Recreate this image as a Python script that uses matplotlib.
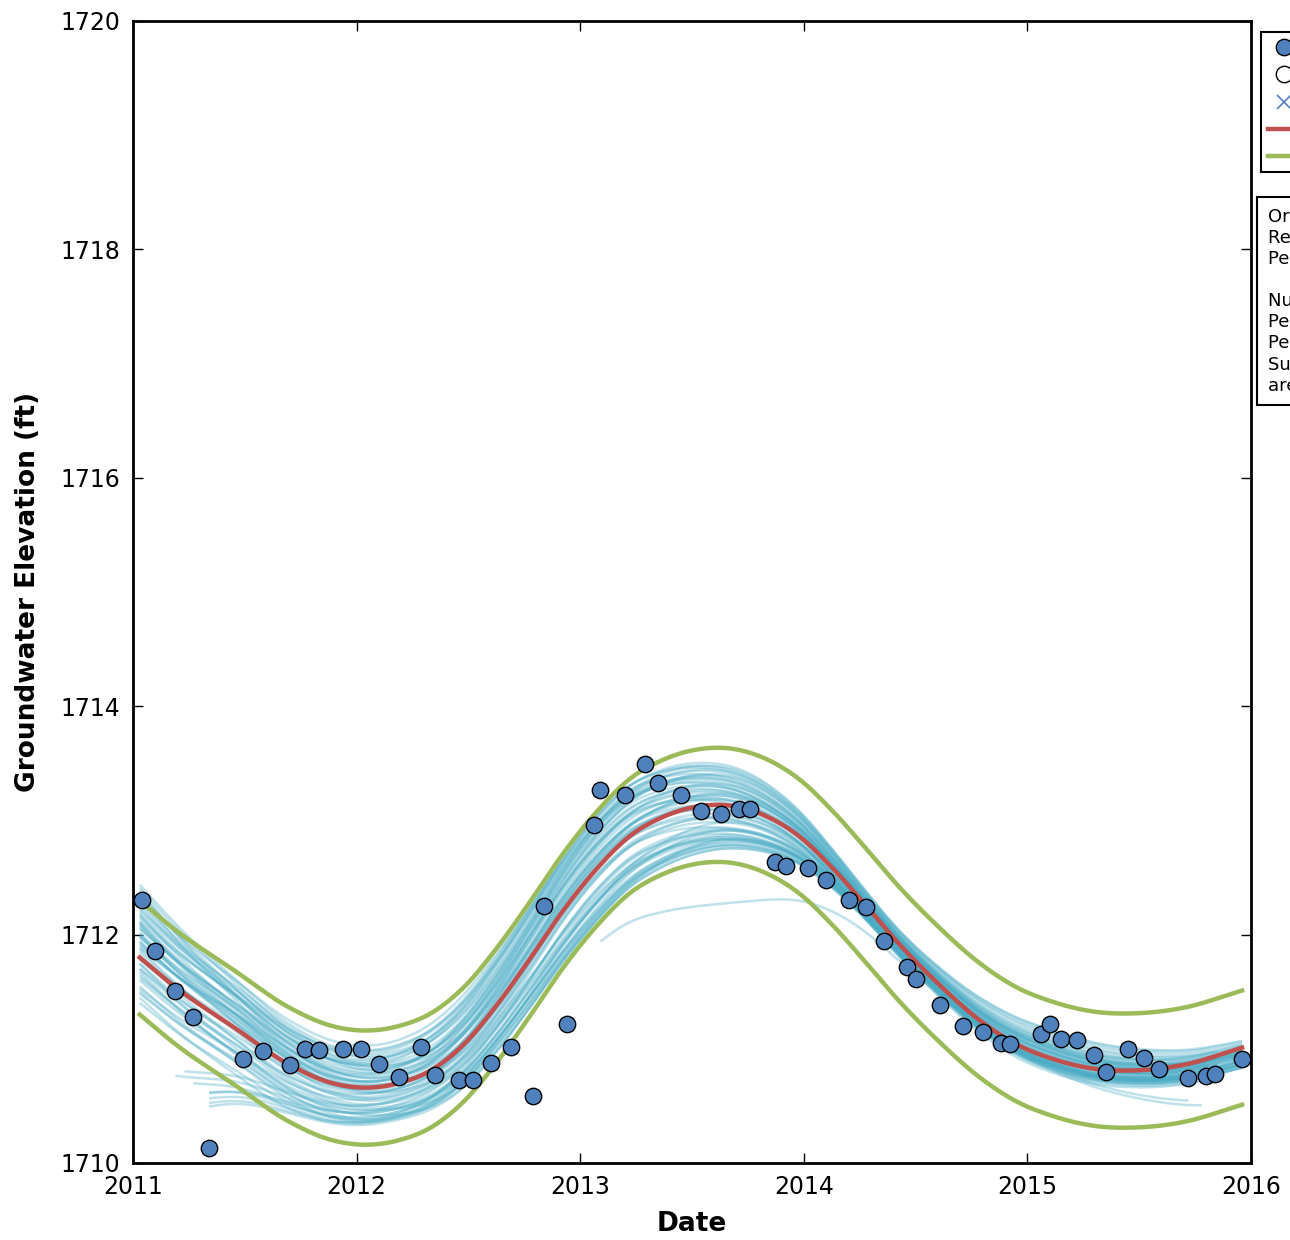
import numpy as np
import matplotlib
matplotlib.use("Agg")
import matplotlib.pyplot as plt
from matplotlib.lines import Line2D

# ---------------- data ----------------
obs_year = [2011.04, 2011.10, 2011.19, 2011.27, 2011.34, 2011.49, 2011.58, 2011.70,
            2011.77, 2011.83, 2011.94, 2012.02, 2012.10, 2012.19, 2012.29, 2012.35,
            2012.46, 2012.52, 2012.60, 2012.69, 2012.79, 2012.84, 2012.94, 2013.06,
            2013.09, 2013.20, 2013.29, 2013.35, 2013.45, 2013.54, 2013.63, 2013.71,
            2013.76, 2013.87, 2013.92, 2014.02, 2014.10, 2014.20, 2014.28, 2014.36,
            2014.46, 2014.50, 2014.61, 2014.71, 2014.80, 2014.88, 2014.92, 2015.06,
            2015.10, 2015.15, 2015.22, 2015.30, 2015.35, 2015.45, 2015.52, 2015.59,
            2015.72, 2015.80, 2015.84, 2015.96]
obs_elev = [1712.30, 1711.86, 1711.51, 1711.28, 1710.13, 1710.91, 1710.98, 1710.86,
            1711.00, 1710.99, 1711.00, 1711.00, 1710.87, 1710.75, 1711.02, 1710.77,
            1710.73, 1710.73, 1710.88, 1711.02, 1710.59, 1712.25, 1711.22, 1712.96,
            1713.27, 1713.22, 1713.49, 1713.33, 1713.22, 1713.08, 1713.06, 1713.10,
            1713.10, 1712.64, 1712.60, 1712.58, 1712.48, 1712.30, 1712.24, 1711.94,
            1711.72, 1711.61, 1711.38, 1711.20, 1711.15, 1711.05, 1711.04, 1711.13,
            1711.22, 1711.09, 1711.08, 1710.95, 1710.80, 1711.00, 1710.92, 1710.82,
            1710.74, 1710.76, 1710.78, 1710.91]

fit_year = [2011.03, 2011.19, 2011.45, 2011.70, 2011.89, 2012.04, 2012.19, 2012.34,
            2012.48, 2012.63, 2012.78, 2012.92, 2013.08, 2013.22, 2013.37, 2013.52,
            2013.67, 2013.84, 2013.98, 2014.13, 2014.28, 2014.43, 2014.58, 2014.80,
            2014.95, 2015.10, 2015.32, 2015.47, 2015.70, 2015.96]
fit_elev = [1711.80, 1711.54, 1711.19, 1710.86, 1710.70, 1710.66, 1710.70, 1710.82,
            1711.04, 1711.39, 1711.80, 1712.20, 1712.59, 1712.86, 1713.03, 1713.12,
            1713.13, 1713.03, 1712.86, 1712.58, 1712.25, 1711.91, 1711.61, 1711.23,
            1711.04, 1710.92, 1710.82, 1710.81, 1710.86, 1711.01]
band_halfwidth = 0.5

# bootstrap fit curves: offsets from the best fit at the knot years
knot_year = [2011.0, 2011.6, 2012.1, 2012.6, 2013.0, 2013.65, 2014.3, 2015.1, 2016.0]
ens_offsets = [
    # upper group
    [0.65, 0.38, 0.32, 0.42, 0.48, 0.30, 0.10, 0.22, 0.02],
    [0.58, 0.30, 0.25, 0.38, 0.45, 0.35, 0.12, 0.25, 0.05],
    [0.52, 0.40, 0.37, 0.45, 0.42, 0.22, 0.06, 0.15, -0.02],
    [0.45, 0.25, 0.20, 0.35, 0.40, 0.28, 0.08, 0.18, 0.00],
    [0.40, 0.32, 0.30, 0.40, 0.46, 0.32, 0.09, 0.12, -0.05],
    [0.60, 0.22, 0.08, 0.20, 0.35, 0.30, 0.11, 0.20, 0.00],
    [0.35, 0.28, 0.28, 0.32, 0.38, 0.20, 0.03, 0.10, -0.06],
    [0.50, 0.30, 0.15, 0.22, 0.30, 0.25, 0.07, 0.14, -0.03],
    [0.30, 0.20, 0.22, 0.30, 0.36, 0.18, 0.04, 0.08, -0.07],
    [0.42, 0.35, 0.26, 0.28, 0.32, 0.15, 0.02, 0.06, -0.08],
    [0.55, 0.18, 0.05, 0.15, 0.28, 0.26, 0.09, 0.16, -0.01],
    [0.25, 0.22, 0.24, 0.36, 0.44, 0.24, 0.05, 0.09, -0.06],
    [0.38, 0.15, 0.12, 0.25, 0.34, 0.22, 0.06, 0.12, -0.04],
    [0.48, 0.26, 0.18, 0.18, 0.22, 0.12, 0.04, 0.10, -0.05],
    [0.32, 0.30, 0.33, 0.38, 0.40, 0.16, 0.00, 0.05, -0.09],
    [0.62, 0.34, 0.20, 0.26, 0.38, 0.33, 0.12, 0.24, 0.04],
    # middle group
    [0.28, 0.15, 0.10, 0.18, 0.22, 0.10, 0.02, 0.05, -0.05],
    [0.22, 0.10, 0.05, 0.10, 0.12, 0.05, 0.00, 0.02, -0.08],
    [0.18, 0.18, 0.14, 0.24, 0.28, 0.12, -0.03, 0.00, -0.10],
    [0.14, 0.05, 0.00, 0.06, 0.15, 0.08, 0.03, 0.08, -0.03],
    [0.10, 0.12, 0.08, 0.02, 0.05, 0.00, -0.02, 0.03, -0.06],
    [0.05, -0.02, -0.05, 0.00, 0.08, -0.05, -0.04, 0.00, -0.10],
    [0.00, 0.05, 0.06, 0.14, 0.20, 0.05, -0.06, -0.02, -0.12],
    [0.22, 0.00, -0.10, -0.08, 0.02, 0.00, 0.04, 0.05, -0.04],
    [0.26, 0.20, 0.16, 0.20, 0.25, 0.15, 0.01, 0.04, -0.07],
    [0.12, 0.08, 0.02, -0.08, -0.08, -0.10, -0.02, 0.00, -0.06],
    [0.18, 0.10, 0.00, 0.05, 0.12, -0.02, -0.08, -0.05, -0.15],
    [-0.05, -0.10, -0.08, -0.05, 0.00, -0.08, -0.05, -0.03, -0.12],
    [0.08, -0.05, -0.12, -0.14, -0.08, -0.15, -0.05, 0.02, -0.08],
    [0.32, 0.12, 0.05, 0.12, 0.18, 0.18, 0.06, 0.10, -0.02],
    [-0.10, -0.05, 0.00, 0.12, 0.22, 0.02, -0.10, -0.06, -0.15],
    [0.02, -0.12, -0.15, -0.18, -0.18, -0.20, -0.06, 0.00, -0.10],
    [0.15, 0.02, -0.05, -0.15, -0.20, -0.22, -0.08, -0.03, -0.12],
    [0.38, 0.25, 0.18, 0.10, 0.10, 0.08, 0.02, 0.12, 0.02],
    [0.20, 0.06, -0.02, 0.04, 0.10, 0.04, 0.01, 0.06, -0.05],
    [0.08, 0.14, 0.12, 0.08, 0.06, -0.04, -0.04, 0.01, -0.09],
    [-0.02, 0.00, 0.02, -0.02, -0.04, -0.12, -0.07, -0.04, -0.13],
    [0.30, 0.08, -0.04, -0.02, 0.06, 0.10, 0.05, 0.08, -0.03],
    # lower group
    [-0.20, -0.20, -0.15, -0.10, -0.05, -0.20, -0.08, -0.05, -0.15],
    [-0.30, -0.28, -0.22, -0.25, -0.28, -0.28, -0.10, -0.08, -0.45],
    [-0.40, -0.35, -0.25, -0.30, -0.38, -0.35, -0.12, -0.10, -0.50],
    [-0.25, -0.30, -0.30, -0.35, -0.44, -0.38, -0.10, -0.05, -0.15],
    [-0.15, -0.22, -0.20, -0.38, -0.45, -0.30, -0.05, 0.00, -0.10],
    [-0.35, -0.40, -0.28, -0.20, -0.18, -0.25, -0.12, -0.12, -0.20],
    [-0.10, -0.15, -0.18, -0.25, -0.30, -0.15, -0.03, -0.02, -0.12],
    [-0.28, -0.18, -0.10, -0.12, -0.22, -0.30, -0.09, -0.07, -0.16],
    [-0.05, -0.20, -0.25, -0.40, -0.42, -0.32, -0.07, -0.03, -0.14],
    [-0.18, -0.12, -0.05, -0.02, 0.02, -0.12, -0.10, -0.08, -0.18],
    [-0.32, -0.25, -0.20, -0.30, -0.35, -0.22, -0.06, -0.04, -0.14],
    [-0.12, -0.25, -0.28, -0.32, -0.30, -0.26, -0.09, -0.06, -0.17],
    # curves that start later
    [-1.00, -0.35, -0.22, -0.28, -0.38, -0.30, -0.08, -0.05, -0.15],
    [-0.95, -0.30, -0.15, -0.18, -0.25, -0.22, -0.06, -0.04, -0.12],
    [-1.05, -0.40, -0.28, -0.33, -0.42, -0.35, -0.10, -0.06, -0.16],
    [-1.30, -0.45, -0.30, -0.35, -0.40, -0.36, -0.11, -0.09, -0.18],
    [-1.40, -0.50, -0.32, -0.40, -0.45, -0.38, -0.12, -0.10, -0.20],
    [-1.20, -0.42, -0.26, -0.25, -0.30, -0.30, -0.09, -0.07, -0.17],
    [-1.35, -0.48, -0.30, -0.30, -0.36, -0.33, -0.10, -0.08, -0.18],
    [-1.25, -0.40, -0.20, -0.20, -0.28, -0.28, -0.08, -0.06, -0.15],
    # stray curve
    [0.00, 0.00, 0.00, -0.35, -0.62, -0.86, -0.22, 0.00, -0.05],
]
ens_start = ([2011.03] * 50 +
             [2011.19, 2011.23, 2011.27, 2011.34, 2011.34, 2011.34, 2011.34, 2011.34] +
             [2013.09])
ens_end = ([2015.96, 2015.96, 2015.85, 2015.96, 2015.96, 2015.85, 2015.96, 2015.96,
            2015.96, 2015.80, 2015.96, 2015.96, 2015.85, 2015.96, 2015.96, 2015.96] +
           [2015.96, 2015.96, 2015.85, 2015.96, 2015.80, 2015.96, 2015.96, 2015.85,
            2015.96, 2015.96, 2015.96, 2015.85, 2015.96, 2015.96, 2015.96, 2015.80,
            2015.96, 2015.96, 2015.96, 2015.85, 2015.96, 2015.96] +
           [2015.96, 2015.72, 2015.78, 2015.96, 2015.96, 2015.85, 2015.96, 2015.96,
            2015.85, 2015.96, 2015.96, 2015.80] +
           [2015.96, 2015.96, 2015.85, 2015.96, 2015.80, 2015.96, 2015.96, 2015.85] +
           [2015.60])

legend_labels = ["Observations", "Outliers", "Excluded data", "Best fit", "95% band"]
info_text = ("Original data points: 60\nRemoved outliers: 0\nPercent removed: 0.0%\n\n"
             "Number of bootstrap fits: 100\nPeriod (yr): 3.5\nPeak date: 2013.7\n"
             "Summary: fitted curves\nare shown in light blue")
x_ticks = [2011, 2012, 2013, 2014, 2015, 2016]
y_ticks = [1710, 1712, 1714, 1716, 1718, 1720]


def smooth_curve(xk, yk, x):
    """Piecewise cubic Hermite curve through the given points (rendering only)."""
    xk = np.asarray(xk, float)
    yk = np.asarray(yk, float)
    m = np.gradient(yk, xk)
    i = np.clip(np.searchsorted(xk, x) - 1, 0, len(xk) - 2)
    h = xk[i + 1] - xk[i]
    s = (x - xk[i]) / h
    h00 = 2 * s**3 - 3 * s**2 + 1
    h10 = s**3 - 2 * s**2 + s
    h01 = -2 * s**3 + 3 * s**2
    h11 = s**3 - s**2
    return h00 * yk[i] + h10 * h * m[i] + h01 * yk[i + 1] + h11 * h * m[i + 1]


plt.rcParams["font.family"] = ["DejaVu Sans"]
fig = plt.figure(figsize=(12.9, 12.4), dpi=100)
ax = fig.add_axes([133 / 1290, 1 - 1163 / 1240, (1251 - 133) / 1290, (1163 - 21) / 1240])

ens_color = "#4bacc6"
for t0, t1, offs in zip(ens_start, ens_end, ens_offsets):
    t = np.linspace(t0, t1, 300)
    y = smooth_curve(fit_year, fit_elev, t) + smooth_curve(knot_year, offs, t)
    ax.plot(t, y, color=ens_color, alpha=0.36, lw=1.8, zorder=2, solid_capstyle="butt")

tf = np.linspace(fit_year[0], fit_year[-1], 600)
yf = smooth_curve(fit_year, fit_elev, tf)
ax.plot(tf, yf + band_halfwidth, color="#9bbb59", lw=3.2, zorder=3)
ax.plot(tf, yf - band_halfwidth, color="#9bbb59", lw=3.2, zorder=3)
ax.plot(tf, yf, color="#c0504d", lw=3.2, zorder=4)

ax.plot(obs_year, obs_elev, "o", ms=11.8, mfc="#4f81bd", mec="black", mew=1.0,
        zorder=5, clip_on=False)

ax.set_xlim(2011, 2016)
ax.set_ylim(1710, 1720)
ax.set_xticks(x_ticks)
ax.set_xticklabels([str(v) for v in x_ticks])
ax.set_yticks(y_ticks)
ax.set_yticklabels([str(v) for v in y_ticks])
ax.tick_params(direction="in", length=7, width=1, top=True, right=True,
               labelsize=17, pad=9)
for sp in ax.spines.values():
    sp.set_linewidth(2)
ax.set_xlabel("Date", fontsize=19, fontweight="bold", labelpad=8)
ax.set_ylabel("Groundwater Elevation (ft)", fontsize=19, fontweight="bold", labelpad=14)

handles = [
    Line2D([], [], ls="none", marker="o", ms=11.8, mfc="#4f81bd", mec="black"),
    Line2D([], [], ls="none", marker="o", ms=11.8, mfc="white", mec="black"),
    Line2D([], [], ls="none", marker="x", ms=10, mec="#4f81bd", mew=1.2),
    Line2D([], [], color="#c0504d", lw=3.2),
    Line2D([], [], color="#9bbb59", lw=3.2),
]
leg = ax.legend(handles, legend_labels, loc="upper left", bbox_to_anchor=(1.009, 0.99),
                borderaxespad=0, numpoints=1, fontsize=12, labelspacing=0.55,
                fancybox=False, framealpha=1, edgecolor="black")
leg.get_frame().set_linewidth(1.5)

ax.text(1.0152, 0.8363, info_text, transform=ax.transAxes, ha="left", va="top",
        fontsize=13, linespacing=1.22, clip_on=False,
        bbox=dict(boxstyle="square,pad=0.6", fc="white", ec="black", lw=1.5))

fig.savefig("out.png", dpi=100)
